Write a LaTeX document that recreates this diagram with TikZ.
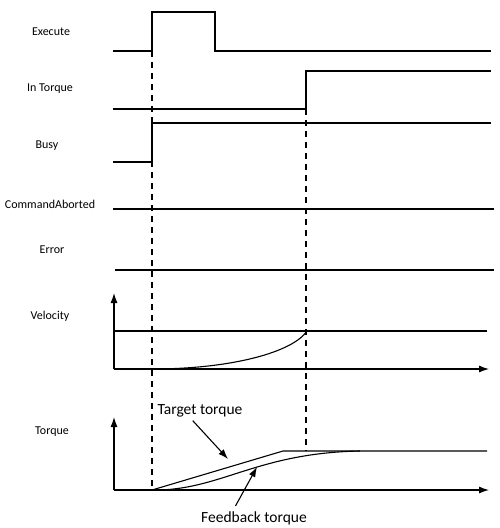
\documentclass[tikz,border=0pt]{standalone}
\usepackage{fontspec}
\setmainfont{Carlito}
\usepackage{tikz}
\usetikzlibrary{
    arrows.meta,
    calc,
    positioning,
}

\begin{document}
\begin{tikzpicture}[x=1pt,y=-1pt,>={Latex[length=10pt,width=7pt]},line width=1.1pt]

    \tikzstyle{sigName}=[font=\fontsize{12}{14}\selectfont, align=center, inner sep=1pt]
    \tikzstyle{callout}=[font=\fontsize{15.5}{18}\selectfont, inner sep=1pt]
    \tikzstyle{wave}=[line width=1.1pt, draw=black]
    \tikzstyle{axis}=[line width=1.1pt, ->]
    \tikzstyle{marker}=[line width=1.1pt, dash pattern=on 6pt off 5pt]
    \tikzstyle{pointer}=[line width=1.1pt, ->, shorten <=1pt]

    \useasboundingbox (0,0) rectangle (500,528);

    \begin{scope}
        % Time instants
        \def \xstart {113}
        \def \xend {491}
        \def \tA {152}
        \def \tB {306}

        % Signal names
        \node at (51,32)  [sigName] (ExeLbl)  {Execute};
        \node at (50,89)  [sigName] (InTLbl)  {In Torque};
        \node at (47,146) [sigName] (BusyLbl) {Busy};
        \node at (50,204) [sigName] (CALbl)   {CommandAborted};
        \node at (52,250) [sigName] (ErrLbl)  {Error};
        \node at (50,316) [sigName] (VelLbl)  {Velocity};
        \node at (52,432) [sigName] (TrqLbl)  {Torque};

        % Digital signals
        \draw [wave] (\xstart,51) -- (\tA,51) -- (\tA,12) -- (215,12) -- (215,51) -- (\xend,51);
        \draw [wave] (\xstart,109) -- (\tB,109) -- (\tB,71) -- (\xend,71);
        \draw [wave] (\xstart,162) -- (\tA,162) -- (\tA,123) -- (\xend,123);
        \draw [wave] (\xstart,209) -- (494,209);
        \draw [wave] (115,270) -- (494,270);

        % Velocity
        \coordinate (VelO) at (114,369);
        \draw [axis] (VelO) -- (114,293);
        \draw [axis] (VelO) -- (489,369);
        \draw [wave] (VelO |- 0,331) -- (487,331);
        \draw [wave] (\tA,369) .. controls (232,369) and (293,352) .. (307,331);

        % Torque
        \coordinate (TrqO) at (114,490);
        \draw [axis] (TrqO) -- (114,417);
        \draw [axis] (TrqO) -- (489,490);
        \draw [wave] (\tA,490) -- (283,451) -- (487,451);
        \draw [wave] (\tA,490) .. controls (220,491) and (255,453) .. (360,451);

        % Instant markers
        \draw [marker] (\tA,51) -- (\tA,490);
        \draw [marker] (\tB,109) -- (\tB,451);

        % Callouts
        \node at (200,411) [callout] (TgtLbl) {Target torque};
        \node at (254,518) [callout] (FbLbl)  {Feedback torque};
        \coordinate (TgtTip) at (228,459);
        \coordinate (FbTip)  at (257,467);
        \draw [pointer] (TgtLbl.south) ++(-8,1) -- (TgtTip);
        \draw [pointer] (FbLbl.north) ++(-19,-3) -- (FbTip);
    \end{scope}

\end{tikzpicture}
\end{document}
